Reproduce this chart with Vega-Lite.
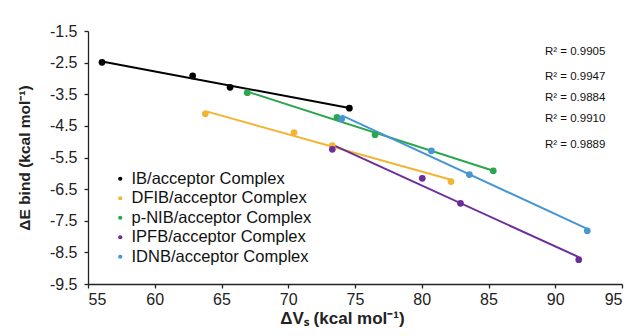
{
  "$schema": "https://vega.github.io/schema/vega-lite/v6.json",
  "width": 534,
  "height": 253,
  "autosize": "none",
  "padding": {"left": 88, "top": 31, "right": 10, "bottom": 52},
  "background": "white",
  "config": {
    "view": {"stroke": null},
    "font": "Liberation Sans",
    "axis": {
      "grid": false,
      "domainColor": "#222",
      "domainWidth": 1.3,
      "tickColor": "#222",
      "tickWidth": 1.3,
      "tickSize": 4,
      "labelColor": "#222",
      "labelFont": "Liberation Sans",
      "labelFontSize": 16,
      "labelOverlap": false,
      "titleFont": "Liberation Sans",
      "titleFontSize": 17,
      "titleFontWeight": "bold",
      "titleColor": "#222"
    }
  },
  "datasets": {
    "pts": [
      {"series": "IB/acceptor Complex", "vs": 56.05, "e": -2.49},
      {"series": "IB/acceptor Complex", "vs": 62.84, "e": -2.92},
      {"series": "IB/acceptor Complex", "vs": 65.64, "e": -3.28},
      {"series": "IB/acceptor Complex", "vs": 74.58, "e": -3.94},
      {"series": "DFIB/acceptor Complex", "vs": 63.79, "e": -4.12},
      {"series": "DFIB/acceptor Complex", "vs": 70.43, "e": -4.71},
      {"series": "DFIB/acceptor Complex", "vs": 73.3, "e": -5.12},
      {"series": "DFIB/acceptor Complex", "vs": 82.19, "e": -6.26},
      {"series": "p-NIB/acceptor Complex", "vs": 66.93, "e": -3.45},
      {"series": "p-NIB/acceptor Complex", "vs": 73.65, "e": -4.23},
      {"series": "p-NIB/acceptor Complex", "vs": 76.5, "e": -4.78},
      {"series": "p-NIB/acceptor Complex", "vs": 85.36, "e": -5.92},
      {"series": "IPFB/acceptor Complex", "vs": 73.3, "e": -5.24},
      {"series": "IPFB/acceptor Complex", "vs": 80.04, "e": -6.16},
      {"series": "IPFB/acceptor Complex", "vs": 82.9, "e": -6.95},
      {"series": "IPFB/acceptor Complex", "vs": 91.76, "e": -8.73},
      {"series": "IDNB/acceptor Complex", "vs": 74.0, "e": -4.28},
      {"series": "IDNB/acceptor Complex", "vs": 80.72, "e": -5.29},
      {"series": "IDNB/acceptor Complex", "vs": 83.57, "e": -6.04},
      {"series": "IDNB/acceptor Complex", "vs": 92.4, "e": -7.82}
    ],
    "r2": [
      {"label": "R² = 0.9905", "vs": 89.23, "e": -2.154},
      {"label": "R² = 0.9947", "vs": 89.23, "e": -2.944},
      {"label": "R² = 0.9884", "vs": 89.23, "e": -3.627},
      {"label": "R² = 0.9910", "vs": 89.23, "e": -4.291},
      {"label": "R² = 0.9889", "vs": 89.23, "e": -5.104}
    ]
  },
  "layer": [
    {
      "data": {"name": "pts"},
      "transform": [{"regression": "e", "on": "vs", "groupby": ["series"]}],
      "mark": {"type": "line", "strokeWidth": 2},
      "encoding": {
        "x": {"field": "vs", "type": "quantitative"},
        "y": {"field": "e", "type": "quantitative"},
        "color": {"field": "series", "type": "nominal"}
      }
    },
    {
      "data": {"name": "pts"},
      "mark": {"type": "circle", "size": 45, "opacity": 1},
      "encoding": {
        "x": {
          "field": "vs", "type": "quantitative",
          "scale": {"domain": [55, 95], "nice": false, "zero": false},
          "axis": {"values": [55, 60, 65, 70, 75, 80, 85, 90, 95], "title": "ΔVₛ (kcal mol⁻¹)", "labelPadding": 3, "titlePadding": 3, "titleX": 254, "labelOverlap": false}
        },
        "y": {
          "field": "e", "type": "quantitative",
          "scale": {"domain": [-9.5, -1.5], "nice": false, "zero": false},
          "axis": {"values": [-1.5, -2.5, -3.5, -4.5, -5.5, -6.5, -7.5, -8.5, -9.5], "labelExpr": "'' + datum.value", "title": "ΔE bind (kcal mol⁻¹)", "titleFontSize": 15.5, "labelPadding": 7, "titlePadding": 17, "labelOverlap": false, "tickCount": 9}
        },
        "color": {
          "field": "series", "type": "nominal",
          "scale": {
            "domain": ["IB/acceptor Complex", "DFIB/acceptor Complex", "p-NIB/acceptor Complex", "IPFB/acceptor Complex", "IDNB/acceptor Complex"],
            "range": ["#000000", "#F3B433", "#2AA64C", "#6B2E98", "#4596D2"]
          },
          "legend": {
            "title": null,
            "orient": "none",
            "legendX": 24,
            "legendY": 139.5,
            "padding": 0,
            "symbolType": "circle",
            "symbolSize": 18,
            "symbolStrokeWidth": 0,
            "labelFontSize": 16.5,
            "labelFont": "Liberation Sans",
            "labelColor": "#111",
            "labelOffset": 3,
            "rowPadding": 2.5,
            "labelLimit": 300
          }
        }
      }
    },
    {
      "data": {"name": "r2"},
      "mark": {"type": "text", "align": "left", "baseline": "middle", "fontSize": 11.5, "font": "Liberation Sans", "color": "#111"},
      "encoding": {
        "x": {"field": "vs", "type": "quantitative"},
        "y": {"field": "e", "type": "quantitative"},
        "text": {"field": "label"}
      }
    }
  ]
}
